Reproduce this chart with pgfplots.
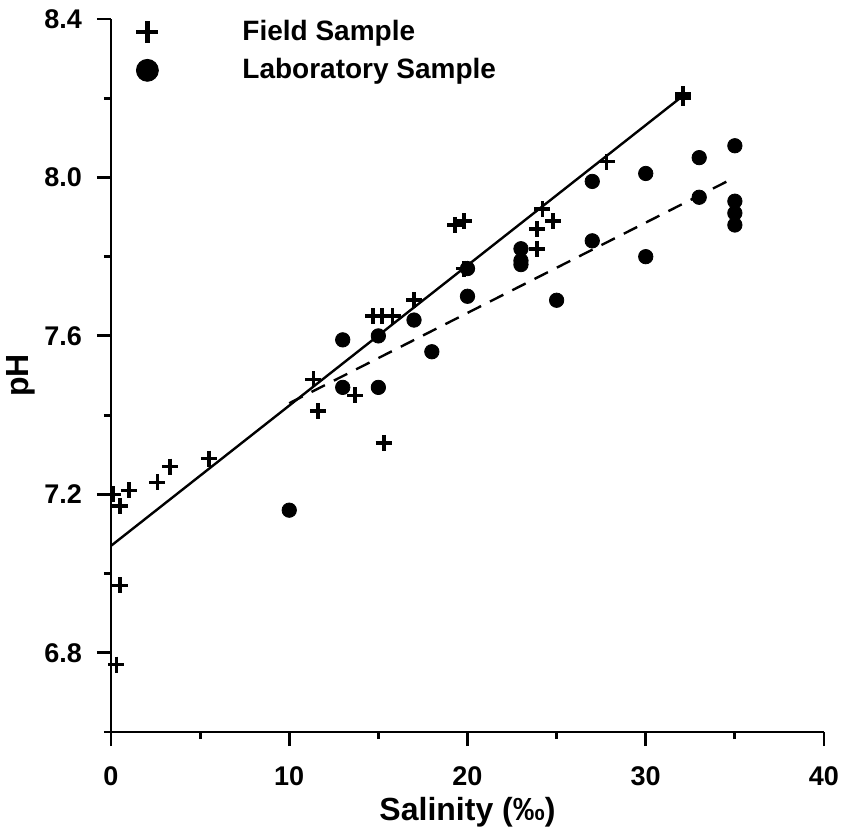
\documentclass[border=0pt]{standalone}
\usepackage{fontspec}
\setmainfont{Liberation Sans}
\usepackage{pgfplots}
\pgfplotsset{compat=1.18}
\begin{document}
\begin{tikzpicture}
\begin{axis}[
  at={(0pt,0pt)}, anchor=south west,
  scale only axis,
  width=356.5pt, height=356.5pt,
  xmin=0, xmax=40, ymin=6.6, ymax=8.4,
  axis x line=bottom, axis y line=left,
  axis line style={-, line width=1.4pt},
  xtick={0,10,20,30,40}, minor xtick={5,15,25,35},
  ytick={6.8,7.2,7.6,8.0,8.4}, minor ytick={6.6,7.0,7.4,7.8,8.2},
  tick align=outside,
  major tick length=7pt, minor tick length=3.5pt,
  every tick/.style={line width=1.4pt, black},
  /pgf/number format/assume math mode=true,
  tick label style={font=\fontsize{13.5}{15}\selectfont\bfseries},
  yticklabel style={xshift=-4pt, /pgf/number format/.cd, fixed, fixed zerofill, precision=1},
  xticklabel style={yshift=-7pt, /pgf/number format/.cd, fixed, precision=0},
  xlabel={Salinity (‰)}, ylabel={pH},
  label style={font=\fontsize{16}{18}\selectfont\bfseries},
  xlabel style={at={([yshift=-40pt]axis description cs:0.5,0)}, anchor=center},
  ylabel style={at={([xshift=-45pt]axis description cs:0,0.5)}, anchor=center},
  legend style={draw=none, fill=none, inner sep=0pt, at={(axis description cs:0,1)}, anchor=north west,
    xshift=12.5pt, yshift=1.5pt,
    font=\fontsize{14}{16}\selectfont\bfseries, column sep=40pt, row sep=3.5pt},
  legend cell align=left,
]
\addlegendimage{only marks, mark=+, mark size=5.5pt, line width=2.4pt}
\addlegendentry{Field Sample}
\addlegendimage{only marks, mark=*, mark size=5.5pt}
\addlegendentry{Laboratory Sample}
% regression lines
\addplot[forget plot, black, line width=1.2pt] coordinates {(0,7.07) (32,8.203)};
\addplot[forget plot, black, line width=1.2pt, dash pattern=on 7.5pt off 5pt] coordinates {(10,7.43) (35,8.00)};
% field samples
\addplot[forget plot, only marks, mark=+, mark size=4pt, line width=1.8pt] coordinates {
(0.13,7.20) (0.5,7.17) (1.0,7.21) (2.6,7.23) (3.3,7.27) (5.5,7.29)
(0.5,6.97) (0.3,6.77) (11.35,7.49) (11.6,7.41) (13.7,7.45) (15.3,7.33)
(14.7,7.65) (15.2,7.65) (15.8,7.65) (17.0,7.69) (19.3,7.88) (19.8,7.89)
(19.8,7.77) (23.9,7.87) (23.9,7.82) (24.2,7.92) (24.8,7.89) (27.8,8.04)
(32.1,8.21) (32.1,8.20)
};
% laboratory samples
\addplot[forget plot, only marks, mark=*, mark size=3.6pt, black] coordinates {
(10,7.16) (13,7.59) (13,7.47) (15,7.60) (15,7.47) (17,7.64) (18,7.56)
(20,7.77) (20,7.70) (23,7.82) (23,7.79) (23,7.78) (25,7.69) (27,7.99)
(27,7.84) (30,8.01) (30,7.80) (33,8.05) (33,7.95) (35,8.08) (35,7.94)
(35,7.91) (35,7.88)
};
\end{axis}
\pgfresetboundingbox
\path[use as bounding box] (-55.5pt,-47.5pt) rectangle (365.5pt,366pt);
\end{tikzpicture}
\end{document}
